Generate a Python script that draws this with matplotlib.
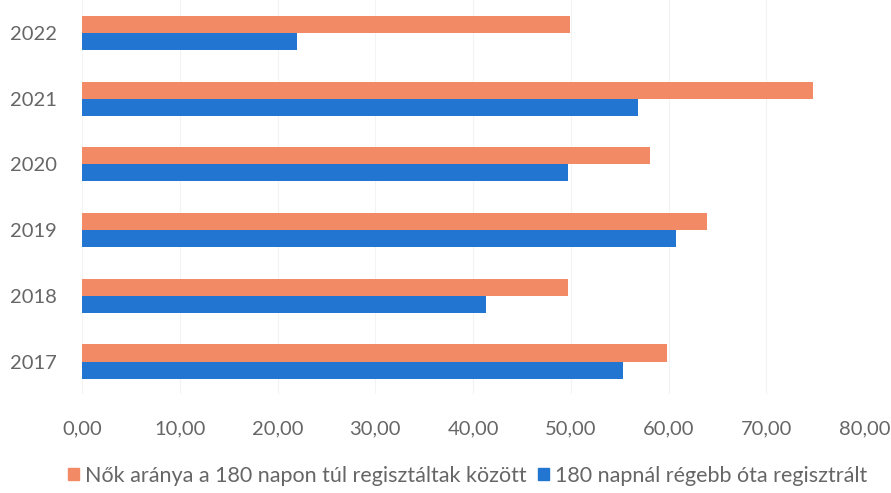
import matplotlib
matplotlib.use("Agg")
import matplotlib.pyplot as plt
import numpy as np
from matplotlib.patches import Patch

years = ["2017", "2018", "2019", "2020", "2021", "2022"]
women_share = [59.8, 49.7, 63.9, 58.1, 74.8, 49.9]
long_term = [55.3, 41.3, 60.7, 49.7, 56.9, 22.0]
x_ticks = [0, 10, 20, 30, 40, 50, 60, 70, 80]

orange = "#F28A66"
blue = "#2275D0"
text_col = "#666666"

plt.rcParams["font.family"] = ["Lato", "DejaVu Sans"]

fig = plt.figure(figsize=(8.91, 4.93), dpi=100)
ax = fig.add_axes([0.092, 0.2, 0.878, 0.8])

y = np.arange(len(years))
h = 0.26
ax.barh(y + h / 2, women_share, height=h, color=orange, zorder=2)
ax.barh(y - h / 2, long_term, height=h, color=blue, zorder=2)

ax.set_xlim(0, 80)
ax.set_ylim(-0.5, len(years) - 0.5)
ax.set_xticks(x_ticks)
ax.set_xticklabels([f"{v:.2f}".replace(".", ",") for v in x_ticks])
ax.set_yticks(y)
ax.set_yticklabels(years)
ax.tick_params(length=0, labelsize=14.5, colors=text_col)
ax.tick_params(axis="x", pad=19)
ax.tick_params(axis="y", pad=18)
ax.grid(axis="x", color="#f3f3f3", linewidth=0.8, zorder=0)
for s in ax.spines.values():
    s.set_visible(False)

handles = [Patch(color=orange), Patch(color=blue)]
labels = ["Nők aránya a 180 napon túl regisztáltak között",
          "180 napnál régebb óta regisztrált"]
fig.legend(handles, labels, loc="lower center", bbox_to_anchor=(0.525, -0.025),
           ncol=2, frameon=False, fontsize=15.5, handlelength=0.5,
           handleheight=0.5, handletextpad=0.3, columnspacing=0.5,
           labelcolor=text_col)

fig.savefig("out.png", dpi=100)
